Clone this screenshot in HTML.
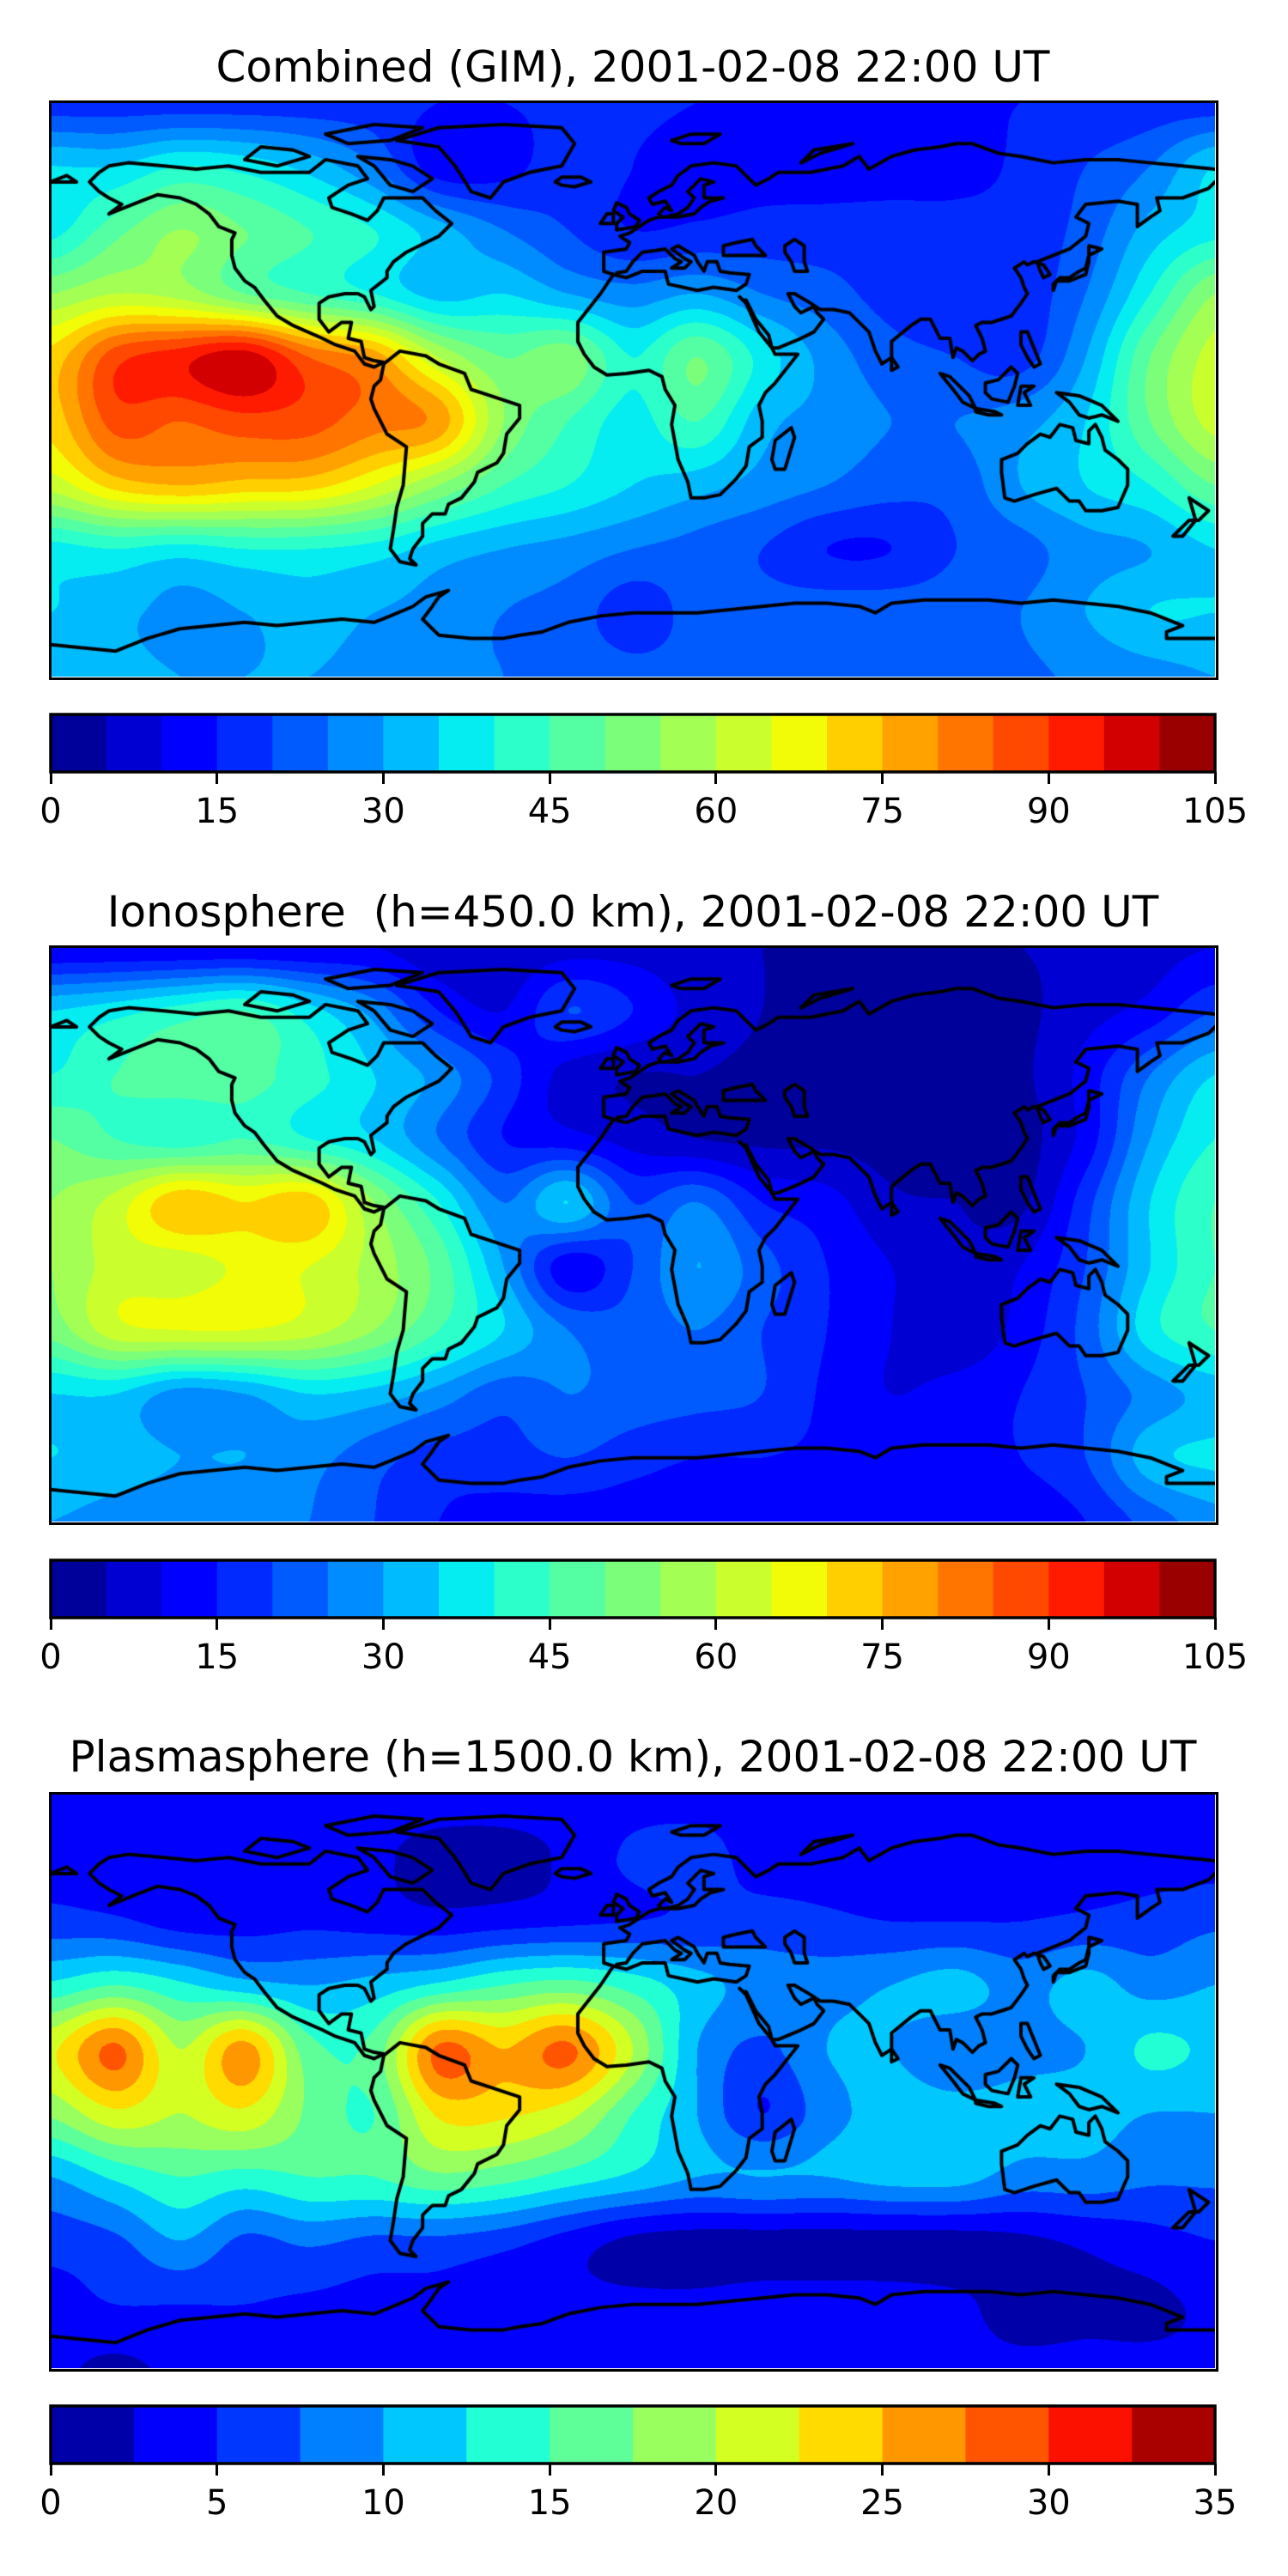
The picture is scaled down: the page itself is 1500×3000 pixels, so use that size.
<!DOCTYPE html>
<html><head><meta charset="utf-8">
<style>
html,body{margin:0;padding:0;background:#fff;}
body{width:1500px;height:3000px;position:relative;overflow:hidden;font-family:"DejaVu Sans","Liberation Sans",sans-serif;}
.title{position:absolute;left:0;width:1474px;text-align:center;font-size:50px;line-height:56px;color:#000;white-space:pre;}
canvas{position:absolute;left:59px;}
.frame{position:absolute;left:57px;width:1356px;border:3px solid #000;box-sizing:content-box;}
.cbar{position:absolute;left:59px;width:1356px;height:67px;}
.tick{position:absolute;width:3px;height:14px;background:#000;}
.tlab{position:absolute;font-size:40px;line-height:44px;width:140px;text-align:center;color:#000;}
</style></head>
<body>
<div class="title" style="top:50px">Combined (GIM), 2001-02-08 22:00 UT</div>
<canvas id="m1" width="1356" height="669" style="top:119px"></canvas>
<div class="frame" style="top:117px;height:669px"></div>
<div id="cb1" class="cbar" style="top:832px"></div>

<div class="title" style="top:1034px">Ionosphere  (h=450.0 km), 2001-02-08 22:00 UT</div>
<canvas id="m2" width="1356" height="669" style="top:1103px"></canvas>
<div class="frame" style="top:1101px;height:669px"></div>
<div id="cb2" class="cbar" style="top:1817px"></div>

<div class="title" style="top:2018px">Plasmasphere (h=1500.0 km), 2001-02-08 22:00 UT</div>
<canvas id="m3" width="1356" height="669" style="top:2089px"></canvas>
<div class="frame" style="top:2087px;height:669px"></div>
<div id="cb3" class="cbar" style="top:2802px"></div>

<script>
// grid nodes: lon -180..180 step 20, lat 90..-90 step 20
const lonNodes = [-180,-160,-140,-120,-100,-80,-60,-40,-20,0,20,40,60,80,100,120,140,160,180];
const latNodes = [90,70,50,30,10,-10,-30,-50,-70,-90];

const gimLevels = [0,5,10,15,20,25,30,35,40,45,50,55,60,65,70,75,80,85,90,95,100,105];
const gimTicks = [0,15,30,45,60,75,90,105];
const gimValues = [
[17,17,17,17,17,17,15,15,16,16,15,15,15,15,15,15,16,17,17],
[35,35,40,38,33,25,12,13,18,15,13,13,13,13,13,16,20,25,35],
[38,48,55,50,45,40,32,25,20,15,16,17,17,17,17,17,22,32,38],
[55,60,58,50,45,40,33,35,30,27,30,25,22,18,17,17,25,40,55],
[72,88,93,98,85,78,60,50,53,40,50,38,28,22,20,18,30,50,62],
[72,87,85,88,87,82,78,55,45,38,45,32,28,25,25,28,35,50,62],
[62,72,75,73,72,65,55,45,40,35,32,28,25,22,22,30,35,40,50],
[38,40,38,40,40,38,33,30,28,25,23,20,15,15,20,23,28,30,35],
[35,32,28,30,33,30,28,25,23,17,22,22,23,23,23,25,30,35,35],
[33,32,30,30,30,28,26,25,24,22,22,22,22,22,23,24,26,28,30]
];

const ionoLevels = gimLevels;
const ionoTicks = gimTicks;
const ionoValues = [
[10,10,10,10,10,10,6,6,8,8,6,5,5,5,5,5,6,8,10],
[35,38,42,45,37,28,15,10,20,15,8,5,4,4,4,4,8,12,20],
[40,45,48,47,42,35,28,18,8,5,5,4,3,3,3,4,12,25,35],
[50,45,42,45,40,35,25,15,12,8,5,4,4,3,3,3,12,30,40],
[55,62,74,70,73,55,40,25,35,20,25,15,12,6,5,4,18,35,45],
[55,62,62,66,65,58,48,30,12,20,30,22,15,10,6,10,20,35,45],
[52,63,65,65,62,55,45,35,25,22,25,20,15,10,6,12,22,38,45],
[35,35,28,30,35,33,28,22,25,23,22,20,14,10,12,15,20,27,32],
[35,33,30,30,27,22,18,18,20,17,15,15,14,14,14,15,20,33,36],
[30,28,27,27,25,20,15,13,12,12,12,12,12,12,12,12,15,22,28]
];

const plasLevels = [0,2.5,5,7.5,10,12.5,15,17.5,20,22.5,25,27.5,30,32.5,35];
const plasTicks = [0,5,10,15,20,25,30,35];
const plasValues = [
[4,4,4,4,4,4,4,4,4,4,4,4,4,4,4,4,4,4,4],
[4,3.5,3.5,4,4,3,1.5,1.5,3,5.5,6,4,4,4,4,4,4,4,4],
[6,5.5,4,4,4.5,4,3.5,4,4.5,5,5.5,6,5.5,5,5,5,5.5,6,7],
[13,15,13,11,10,11,13,15,16,14,11,9,9,10,11,9,11,9,10],
[22,28,20,26,16,16,28,25,28,20,10,7,10,10,8,9,10,13,12],
[18,22,20,22,17,15,23,23,21,15,10,5,9,11,11,11,11,10,10],
[10,13,15,14,15,15,17,16,14,12,10,10,10,11,11,9,9,8,8],
[6,7,10,7,8,7,7,6,4,2,1.5,1.5,1.5,1.5,1.5,2,3,4,5],
[4,5,5,5,4.5,4,4,3,3,3,3,3.5,3.5,3.5,3,1.5,2,2,3],
[3,2,3,3,3,3,3,3,3,3,3,3,3,3,3,3,3,3,3]
];

// coastlines (lon,lat)
const coasts = [
[[-168,65],[-165,68],[-162,70],[-156,71],[-145,70],[-135,69],[-125,70],[-115,68],[-100,68],[-95,72],[-85,70],[-82,66],[-88,64],[-94,60],[-93,57],[-87,55],[-82,53],[-79,56],[-77,60],[-70,60],[-65,60],[-61,56],[-56,52],[-60,48],[-66,45],[-70,43],[-74,40],[-76,37],[-76,35],[-81,31],[-80,26],[-81,25],[-83,29],[-85,30],[-89,30],[-94,29],[-97,27],[-97,22],[-94,18],[-90,21],[-87,21],[-88,16],[-84,15],[-83,10],[-80,9],[-77,8.5],[-80,7],[-83,8],[-86,12],[-92,14],[-96,16],[-105,20],[-110,23],[-114,28],[-117,32],[-120,34],[-123,38],[-124,42],[-124,47],[-123,49],[-128,51],[-131,55],[-135,58],[-140,60],[-147,61],[-152,59],[-157,57],[-162,55],[-158,58],[-162,60],[-165,62],[-168,65]],
[[-73,78],[-60,82],[-40,83],[-22,82],[-18,77],[-22,70],[-32,68],[-40,65],[-44,60],[-50,62],[-53,67],[-55,70],[-60,76],[-73,78]],
[[-120,72],[-115,76],[-105,75],[-100,73],[-110,70],[-120,72]],
[[-95,80],[-80,83],[-65,82],[-75,78],[-88,77],[-95,80]],
[[-85,73],[-75,72],[-68,70],[-62,66],[-68,62],[-75,64],[-80,70],[-85,73]],
[[-24,65],[-22,66.5],[-16,66.5],[-13,65],[-18,63.5],[-22,64],[-24,65]],
[[-5,50],[1,51],[2,53],[-1,55],[-2,57],[-5,58.5],[-6,56],[-3,54],[-5,52],[-5,50]],
[[-10,52],[-6,52],[-6,55],[-8,55],[-10,52]],
[[-77,8],[-72,12],[-64,10.5],[-60,8],[-52,5],[-50,0],[-44,-2],[-35,-5],[-35,-9],[-39,-14],[-40,-20],[-42,-23],[-48,-26],[-49,-29],[-53,-34],[-57,-36],[-58,-39],[-62,-39],[-65,-42],[-65,-46],[-68,-50],[-69,-53],[-67,-55],[-72,-54],[-75,-50],[-74,-44],[-73,-37],[-71,-30],[-70,-18],[-76,-14],[-80,-6],[-81,-3],[-80,1],[-78,3],[-77,8]],
[[-6,36],[-10,30],[-17,21],[-17,15],[-15,11],[-12,7],[-8,4.5],[-2,5],[5,6],[9,4],[10,0],[13,-5],[12,-11],[14,-22],[17,-29],[18,-34],[22,-34],[27,-33],[32,-28],[35,-24],[36,-18],[40,-15],[40,-10],[39,-5],[41,-1],[44,2],[51,11],[44,11],[43,13],[39,18],[35,27],[33,29],[34,28],[35,28],[38,22],[42,17],[43,13],[45,13],[52,16],[56,18],[59,22],[57,24],[56,26],[52,24],[50,26],[48,30],[50,30],[55,27],[58,25],[62,25],[67,24],[70,21],[73,18],[75,12],[77,8],[80,10],[80,15],[86,20],[89,22],[92,22],[94,18],[95,16],[98,16],[99,10],[100,13],[102,12],[105,9],[107,11],[109,12],[108,16],[106,20],[108,21],[111,21],[114,22],[117,23],[120,27],[122,30],[121,32],[120,35],[118,38],[121,40],[122,39],[124,40],[127,39],[129,36],[127,35],[126,37],[125,40],[130,42],[135,44],[140,48],[141,52],[137,54],[140,58],[150,59],[156,58],[156,51],[160,54],[163,56],[162,60],[170,60],[178,63],[180,65]],
[[180,69],[170,70],[160,71],[150,72],[140,72],[130,71],[120,73],[113,74],[105,77],[100,77],[95,76],[87,75],[80,73],[73,69],[70,73],[65,70],[60,69],[55,68],[45,68],[42,66],[38,64],[32,70],[25,71],[18,70],[14,67],[12,64],[8,62],[5,60],[6,58],[10,59],[12,56],[10,57],[8,55],[9,54],[14,54],[19,55],[21,57],[24,59],[28,60],[22,60],[22,64],[25,65],[21,66],[17,62],[19,60],[17,57],[14,55],[10,54],[8,54],[5,53],[2,51],[-1,49],[-4,48],[-1,46],[-2,44],[-9,43],[-9,39],[-9,37],[-6,36]],
[[-180,65],[-175,67],[-172,65],[-180,65]],
[[-6,36],[-2,35],[3,37],[10,37],[11,33],[20,31],[25,32],[32,31],[35,33],[36,36],[30,36.5],[27,37],[26,40],[23,40],[22,37],[20,40],[19,42],[14,45],[12,44],[16,41],[18,40],[16,38],[12,38],[15,40],[13,41],[10,44],[7,43.5],[3,43],[0,40],[-2,37],[-5,36.5]],
[[28,42],[28,45],[32,46],[37,47],[38,45],[41,42],[35,42],[28,42]],
[[47,45],[50,47],[53,45],[53,40],[54,37],[50,37],[49,40],[47,43],[47,45]],
[[114,-22],[114,-26],[115,-34],[118,-35],[124,-33],[131,-31],[135,-35],[138,-35],[140,-38],[145,-38],[150,-37],[153,-30],[153,-25],[150,-22],[146,-19],[145,-15],[143,-11],[141,-13],[141,-17],[137,-16],[136,-12],[132,-11],[129,-15],[126,-14],[122,-17],[119,-20],[114,-22]],
[[131,-1],[138,-2],[145,-5],[150,-10],[145,-8],[141,-9],[138,-8],[135,-4],[131,-1]],
[[109,2],[113,3],[117,7],[119,5],[118,1],[116,-4],[111,-3],[109,-1],[109,2]],
[[95,5],[98,4],[104,-2],[106,-6],[102,-4],[99,0],[95,5]],
[[106,-6],[112,-7],[114,-8],[110,-8],[106,-7],[106,-6]],
[[119,-5],[120,1],[124,1],[121,-1],[123,-5],[119,-5]],
[[120,18],[122,18],[124,13],[126,8],[124,7],[122,10],[120,14],[120,18]],
[[130,31],[131,34],[135,34],[140,36],[141,40],[141,45],[145,44],[141,42],[140,38],[138,37],[135,35],[132,35],[130,33],[130,31]],
[[80,6],[82,7],[80,10],[80,6]],
[[44,-25],[47,-25],[50,-15],[49,-12],[44,-16],[43,-22],[44,-25]],
[[172,-34],[178,-38],[175,-41],[172,-41],[167,-46],[170,-46],[174,-41],[172,-34]],
[[52,71],[56,75],[68,77],[58,74],[52,71]],
[[12,78],[18,80],[27,80],[22,77],[15,77],[12,78]],
[[-180,-80],[-170,-81],[-160,-82],[-150,-78],[-140,-75],[-130,-74],[-120,-73],[-110,-74],[-100,-73],[-90,-72],[-80,-73],[-75,-71],[-68,-68],[-64,-65],[-57,-63],[-60,-65],[-62,-68],[-65,-72],[-62,-75],[-60,-77],[-50,-78],[-40,-78],[-35,-77],[-28,-76],[-20,-73],[-10,-71],[0,-70],[10,-70],[20,-70],[30,-69],[40,-68],[50,-67],[60,-67],[70,-68],[75,-70],[80,-67],[90,-66],[100,-66],[110,-66],[120,-67],[130,-66],[140,-67],[150,-68],[160,-70],[165,-72],[170,-74],[165,-76],[165,-78],[170,-78],[180,-78]]
];

function jet(x){
  function seg(pts){
    for(let i=1;i<pts.length;i++){ if(x<=pts[i][0]){const a=pts[i-1],b=pts[i];return a[1]+(b[1]-a[1])*(x-a[0])/(b[0]-a[0]);} }
    return pts[pts.length-1][1];
  }
  const r=seg([[0,0],[0.35,0],[0.66,1],[0.89,1],[1,0.5]]);
  const g=seg([[0,0],[0.125,0],[0.375,1],[0.64,1],[0.91,0],[1,0]]);
  const b=seg([[0,0.5],[0.11,1],[0.34,1],[0.65,0],[1,0]]);
  return [Math.round(r*255),Math.round(g*255),Math.round(b*255)];
}
function levelColors(levels){
  const n=levels.length-1, out=[];
  for(let i=0;i<n;i++) out.push(jet((i+0.5)/n));
  return out;
}
function cr(p0,p1,p2,p3,t){
  return 0.5*((2*p1)+(-p0+p2)*t+(2*p0-5*p1+4*p2-p3)*t*t+(-p0+3*p1-3*p2+p3)*t*t*t);
}
function drawMap(id, grid, levels){
  const cv=document.getElementById(id), ctx=cv.getContext('2d');
  const W=cv.width,H=cv.height, img=ctx.createImageData(W,H), d=img.data;
  const cols=levels.length-1, colors=levelColors(levels);
  const nx=lonNodes.length, ny=latNodes.length;
  const G=(j,i)=>grid[Math.max(0,Math.min(ny-1,j))][Math.max(0,Math.min(nx-1,i))];
  const lonSpan=lonNodes[nx-1]-lonNodes[0], latSpan=latNodes[0]-latNodes[ny-1];
  for(let py=0;py<H;py++){
    const lat=latNodes[0]-latSpan*(py+0.5)/H;
    const v=(latNodes[0]-lat)/latSpan*(ny-1);
    const j=Math.min(ny-2,Math.floor(v)), tv=v-j;
    for(let px=0;px<W;px++){
      const lon=lonNodes[0]+lonSpan*(px+0.5)/W;
      const u=(lon-lonNodes[0])/lonSpan*(nx-1);
      const i=Math.min(nx-2,Math.floor(u)), tu=u-i;
      const r=[];
      for(let k=-1;k<=2;k++) r.push(cr(G(j+k,i-1),G(j+k,i),G(j+k,i+1),G(j+k,i+2),tu));
      const val=cr(r[0],r[1],r[2],r[3],tv);
      let li=0; while(li<cols-1 && val>=levels[li+1]) li++;
      const c=colors[li], o=(py*W+px)*4;
      d[o]=c[0];d[o+1]=c[1];d[o+2]=c[2];d[o+3]=255;
    }
  }
  ctx.putImageData(img,0,0);
  ctx.strokeStyle='#000';ctx.lineWidth=4;ctx.lineJoin='round';ctx.lineCap='round';
  const X=lon=>(lon-lonNodes[0])/lonSpan*W, Y=lat=>(latNodes[0]-lat)/latSpan*H;
  coasts.forEach(poly=>{
    ctx.beginPath();
    poly.forEach((p,k)=>{ if(k===0) ctx.moveTo(X(p[0]),Y(p[1])); else ctx.lineTo(X(p[0]),Y(p[1])); });
    ctx.stroke();
  });
}
function drawBar(id, levels, ticks, name){
  const el=document.getElementById(id), W=1356, n=levels.length-1, colors=levelColors(levels);
  const lo=levels[0], hi=levels[n];
  let html='<svg width="1356" height="67" style="position:absolute;left:0;top:0;overflow:visible">';
  for(let i=0;i<n;i++){
    const x0=(levels[i]-lo)/(hi-lo)*W, x1=(levels[i+1]-lo)/(hi-lo)*W;
    html+='<rect x="'+x0+'" y="0" width="'+(x1-x0+0.6)+'" height="67" fill="rgb('+colors[i].join(',')+')"/>';
  }
  html+='<rect x="0" y="0" width="1356" height="67" fill="none" stroke="#000" stroke-width="3.5"/></svg>';
  el.innerHTML=html;
  ticks.forEach(t=>{
    const x=(t-lo)/(hi-lo)*W;
    const tk=document.createElement('div');
    tk.className='tick';
    tk.style.left=(x-1.5)+'px'; tk.style.top='67px';
    
    
    el.appendChild(tk);
    const lb=document.createElement('div');
    lb.className='tlab';
    lb.style.left=(x-70)+'px'; lb.style.top='91px';
    lb.textContent=String(t);
    
    
    el.appendChild(lb);
  });
}
drawMap('m1', gimValues, gimLevels);
drawMap('m2', ionoValues, ionoLevels);
drawMap('m3', plasValues, plasLevels);
drawBar('cb1', gimLevels, gimTicks, 'gim');
drawBar('cb2', ionoLevels, ionoTicks, 'iono');
drawBar('cb3', plasLevels, plasTicks, 'plas');
</script>
</body></html>
